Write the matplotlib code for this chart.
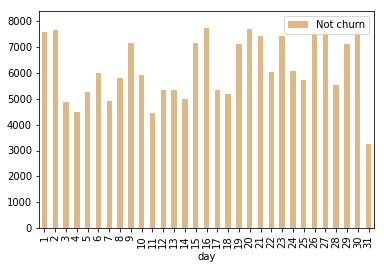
import numpy as np
import matplotlib.pyplot as plt

days = list(range(1, 32))
not_churn = [7580, 7650, 4870, 4480, 5260, 5990, 4910, 5800, 7150, 5910,
             4450, 5330, 5330, 4990, 7150, 7730, 5330, 5200, 7110, 7690,
             7420, 6030, 7420, 6070, 5720, 7600, 7600, 5530, 7110, 7600,
             3250]


def main():
    W, H = 384, 269
    fig = plt.figure(figsize=(W / 72, H / 72), dpi=72)
    ax = fig.add_axes([39 / W, 1 - 228 / H, (374 - 39) / W, (228 - 11) / H])

    x = np.arange(len(days))
    ax.bar(x, not_churn, width=0.5, color='burlywood', label='Not churn')
    ax.set_xticks(x)
    ax.set_xticklabels([str(d) for d in days], rotation=90)
    ax.set_xlim(-0.5, len(days) - 0.5)
    ax.set_ylim(0, 8400)
    ax.set_xlabel('day')
    ax.legend(loc='upper right')

    plt.savefig("out.png", dpi=72)


if __name__ == "__main__":
    main()
